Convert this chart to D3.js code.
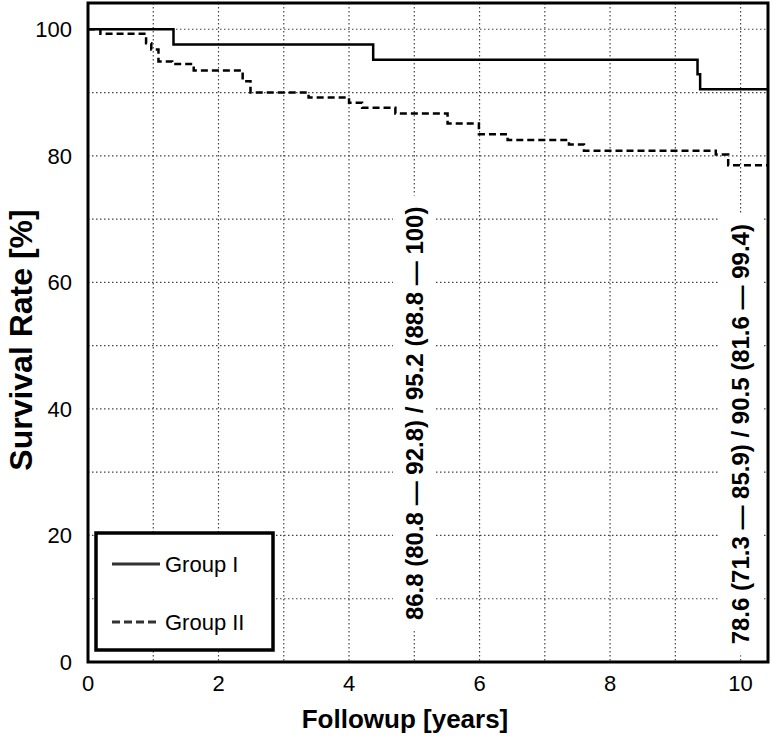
<!DOCTYPE html>
<html>
<head>
<meta charset="utf-8">
<script src="https://cdn.jsdelivr.net/npm/d3@7"></script>
<style>
  body { margin: 0; background: #fff; }
  text { font-family: "Liberation Sans", Arial, sans-serif; fill: #000; }
</style>
</head>
<body>
<div id="chart"></div>
<script>
// Kaplan-Meier steps
var groupITime = [0, 1.31, 4.37, 9.34, 9.38];
var groupISurv = [100, 97.6, 95.2, 92.9, 90.5];

var groupIITime = [0, 0.19, 0.89, 0.97, 1.08, 1.29, 1.62, 2.37, 2.49, 3.38, 4.00, 4.20, 4.71, 5.51, 5.99, 6.43, 7.37, 7.60, 9.62, 9.81];
var groupIISurv = [100, 99.3, 97.8, 96.8, 94.9, 94.5, 93.5, 91.8, 90.0, 89.2, 88.4, 87.6, 86.7, 85.1, 83.4, 82.5, 81.8, 80.8, 80.2, 78.5];

var followupEnd = 10.42;
var xTicks = [0, 2, 4, 6, 8, 10];
var yTicks = [0, 20, 40, 60, 80, 100];
var xGrid = [1, 2, 3, 4, 5, 6, 7, 8, 9, 10];
var yGrid = [10, 20, 30, 40, 50, 60, 70, 80, 90, 100];

var annotYears = [5, 10];
var annotTexts = [
  "86.8 (80.8 \u2014 92.8) / 95.2 (88.8 \u2014 100)",
  "78.6 (71.3 \u2014 85.9) / 90.5 (81.6 \u2014 99.4)"
];
var legendNames = ["Group I", "Group II"];

var W = 774, H = 736;
var margin = {top: 3, right: 6, bottom: 74, left: 88};
var width = W - margin.left - margin.right;
var height = H - margin.top - margin.bottom;

var svg = d3.select("#chart").append("svg")
    .attr("width", W)
    .attr("height", H);

var g = svg.append("g")
    .attr("transform", "translate(" + margin.left + "," + margin.top + ")");

var x = d3.scaleLinear().domain([0, followupEnd]).range([0, width]);
var y = d3.scaleLinear().domain([0, 104.15]).range([height, 0]);

// dotted grid
g.append("g").selectAll("line").data(xGrid).enter().append("line")
    .attr("x1", function(d) { return x(d); })
    .attr("x2", function(d) { return x(d); })
    .attr("y1", 0).attr("y2", height)
    .attr("stroke", "#444").attr("stroke-width", 1.2)
    .attr("stroke-dasharray", "1.5,2.5");

g.append("g").selectAll("line").data(yGrid).enter().append("line")
    .attr("x1", 0).attr("x2", width)
    .attr("y1", function(d) { return y(d); })
    .attr("y2", function(d) { return y(d); })
    .attr("stroke", "#444").attr("stroke-width", 1.2)
    .attr("stroke-dasharray", "1.5,2.5");

// curves
function steps(times, surv) {
  var pts = times.map(function(t, i) { return [t, surv[i]]; });
  pts.push([followupEnd, surv[surv.length - 1]]);
  return pts;
}
var line = d3.line()
    .x(function(d) { return x(d[0]); })
    .y(function(d) { return y(d[1]); })
    .curve(d3.curveStepAfter);

g.append("path")
    .datum(steps(groupIITime, groupIISurv))
    .attr("d", line)
    .attr("fill", "none").attr("stroke", "#000")
    .attr("stroke-width", 2.5)
    .attr("stroke-dasharray", "7,4");

g.append("path")
    .datum(steps(groupITime, groupISurv))
    .attr("d", line)
    .attr("fill", "none").attr("stroke", "#000")
    .attr("stroke-width", 2.5);

// rotated annotations with white boxes behind them
var annotMid = [39.3, 36.0]; // vertical centre of each label, in % units
var ann = g.append("g").selectAll("g").data(annotTexts).enter().append("g")
    .attr("transform", function(d, i) {
      return "translate(" + x(annotYears[i]) + "," + y(annotMid[i]) + ") rotate(-90)";
    });

ann.append("text")
    .attr("text-anchor", "middle")
    .attr("dy", "0.36em")
    .style("font-size", "24px")
    .style("font-weight", "bold")
    .text(function(d) { return d; });

ann.each(function() {
  var grp = d3.select(this);
  var bb = grp.select("text").node().getBBox();
  grp.insert("rect", "text")
      .attr("x", bb.x - 11).attr("y", bb.y - 8)
      .attr("width", bb.width + 22).attr("height", bb.height + 16)
      .attr("fill", "#fff");
});

// frame
g.append("rect")
    .attr("x", 0).attr("y", 0)
    .attr("width", width).attr("height", height)
    .attr("fill", "none").attr("stroke", "#000").attr("stroke-width", 3);

// tick labels
g.append("g").selectAll("text").data(yTicks).enter().append("text")
    .attr("x", -16)
    .attr("y", function(d) { return y(d); })
    .attr("dy", "0.36em")
    .attr("text-anchor", "end")
    .style("font-size", "22px")
    .text(function(d) { return d; });

g.append("g").selectAll("text").data(xTicks).enter().append("text")
    .attr("x", function(d) { return x(d); })
    .attr("y", height + 29)
    .attr("text-anchor", "middle")
    .style("font-size", "22px")
    .text(function(d) { return d; });

// axis titles
svg.append("text")
    .attr("x", 405).attr("y", 728)
    .attr("text-anchor", "middle")
    .style("font-size", "26px").style("font-weight", "bold")
    .text("Followup [years]");

svg.append("text")
    .attr("transform", "translate(32,340) rotate(-90)")
    .attr("text-anchor", "middle")
    .style("font-size", "32px").style("font-weight", "bold")
    .text("Survival Rate [%]");

// legend
var legend = g.append("g").attr("transform", "translate(8,530)");
legend.append("rect")
    .attr("width", 177).attr("height", 117)
    .attr("fill", "#fff").attr("stroke", "#000").attr("stroke-width", 3.5);

var item = legend.selectAll(".item").data(legendNames).enter().append("g")
    .attr("class", "item")
    .attr("transform", function(d, i) { return "translate(0," + (31 + i * 58) + ")"; });

item.append("line")
    .attr("x1", 16).attr("x2", 64)
    .attr("stroke", "#333").attr("stroke-width", 3)
    .attr("stroke-dasharray", function(d, i) { return i ? "8,4" : null; });

item.append("text")
    .attr("x", 69).attr("dy", "0.36em")
    .style("font-size", "22px")
    .text(function(d) { return d; });
</script>
</body>
</html>
